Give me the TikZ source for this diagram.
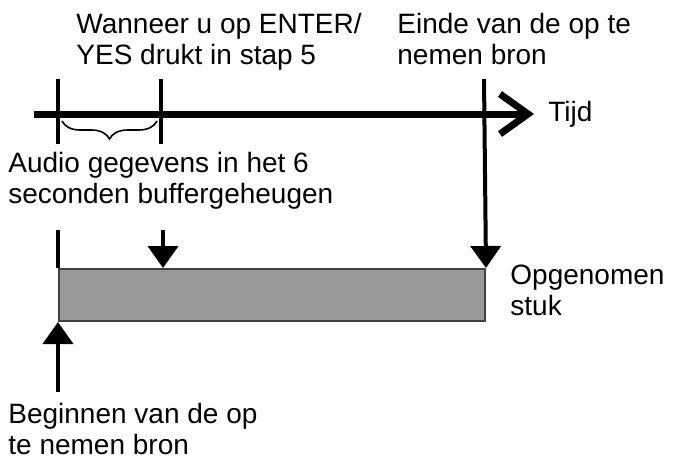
\documentclass[tikz,border=0pt]{standalone}
\usepackage{fontspec}
\setmainfont{Liberation Sans}
\usetikzlibrary{arrows.meta,decorations.pathreplacing}

\begin{document}
\begin{tikzpicture}[x=0.5pt, y=-0.5pt, font=\fontsize{14pt}{15.5pt}\selectfont,
lbl/.style={anchor=north west, inner sep=0pt, align=left},
tick/.style={line width=2pt},
pointer/.style={line width=2pt, -{Triangle[width=15pt, length=11pt]}},
axis/.style={line width=3.5pt, -{Straight Barb[length=14pt, width=20pt]}}]
\useasboundingbox (0,0) rectangle (673,465);
% time axis
\coordinate (t0) at (34,114);
\coordinate (t1) at (534,114);
\draw[axis] (t0) -- (t1);
\node[anchor=west, inner sep=0pt] (tijd) at (548,114) {Tijd};
% ticks on the axis
\coordinate (a1) at (58,79);   \coordinate (a2) at (58,144);
\coordinate (b1) at (161,79);  \coordinate (b2) at (161,144);
\draw[tick] (a1) -- (a2);
\draw[tick] (b1) -- (b2);
\draw[line width=0.8pt, decorate,
  decoration={brace, mirror, amplitude=9pt}] (62,121) -- (157,121);
% recorded piece
\node[draw=black!75, line width=1pt, fill=black!40, inner sep=0pt,
  minimum width=213pt, minimum height=26pt, anchor=north west] (rec) at (58,268) {};
\coordinate (s1) at (58,230);
\coordinate (s2) at (58,392);
\coordinate (k1) at (163,230);
\coordinate (e1) at (484,79);
\draw[tick] (s1) -- (rec.north west);
\draw[pointer] (s2) -- (rec.south west);
\draw[pointer] (k1) -- (k1 |- rec.north);
\draw[pointer] (e1) -- (rec.north east);
% labels
\node[lbl] (enter) at (76,13) {Wanneer u op ENTER/\\YES drukt in stap 5};
\node[lbl] (einde) at (397,13) {Einde van de op te\\nemen bron};
\node[lbl] (buffer) at (8,152) {Audio gegevens in het 6\\seconden buffergeheugen};
\node[lbl] (stuk) at (510,265) {Opgenomen\\stuk};
\node[lbl] (begin) at (8,403) {Beginnen van de op\\te nemen bron};
\end{tikzpicture}
\end{document}
